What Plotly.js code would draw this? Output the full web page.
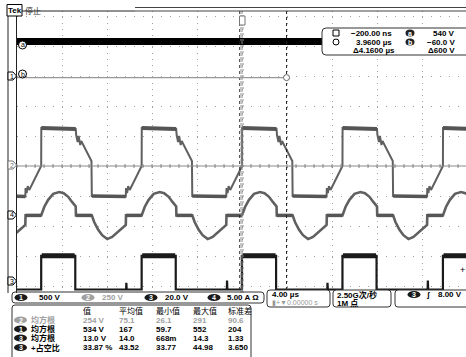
<!DOCTYPE html>
<html><head><meta charset="utf-8">
<script src="https://cdn.plot.ly/plotly-3.0.1.min.js"></script>
<style>body{margin:0;background:#fff}#c{width:466px;height:357px}</style>
</head><body><div id="c"></div><script>
// ---------------- data ----------------
const usPerDiv = 4;                       // 4.00 us/div
const ch1Scale = 500, ch2Scale = 250, ch3Scale = 20, ch4Scale = 5;
// ch3 gate pulse edges (us) and levels (V)
const ch3RiseUs = [-17.85, -8.92, 0, 8.93, 17.86];
const ch3FallUs = [-14.82, -5.89, 3.03, 11.96, 20.9];
const ch3HighV = 17.5, ch3LowV = -5;
const ch3SpikeUs = [-10.3, -1.35, 7.58, 16.5];
const ch3SpikeV = [1.5, 2, 1.5, 2];
// start times of each switching period (us)
const periodStartUs = [-26.78, -17.85, -8.92, 0, 8.93, 17.86];
// ch2 (250 V/div) shape within one period: offset (us) / volts
const ch2OffUs = [0, 0.01, 3.07, 3.11, 3.24, 3.33, 3.47, 3.56, 4.47, 4.5, 7.52, 7.54, 7.64, 7.73, 7.87, 8.93];
const ch2V     = [0, 317, 308, 258, 200, 250, 175, 208, 42, -250, -254, -183, -225, -167, -200, 0];
// ch4 (5 A/div) shape within one period: offset (us) / amps
const ch4OffUs = [0, 0.27, 0.62, 1.07, 1.6, 2.0, 2.4, 2.76, 3.07, 3.09, 4.5, 4.71, 5.07, 5.42, 5.87, 6.31, 6.76, 7.2, 7.52, 7.54, 8.93];
const ch4A     = [0.1, 1.5, 2.7, 3.7, 4.0, 3.8, 3.2, 2.3, 1.6, 0.1, 0.1, -1.0, -2.3, -3.2, -3.85, -3.5, -2.7, -2.0, -1.5, 0.1, 0.1];
// ch1 (500 V/div) flat bus voltage
const ch1Us = [-20, 20];
const ch1V  = [540, 540];
// cursors
const cursorAUs = -0.2, cursorBUs = 3.96;
const cursorAV = 540, cursorBV = -60;
const cursorTexts = ['\u2212200.00 ns', '3.9600 \u00b5s', '\u03944.1600 \u00b5s'];
const cursorVTexts = ['540 V', '\u221260.0 V', '\u0394600 V'];
// channel readouts
const chLabels = ['1', '2', '3', '4'];
const chScaleTexts = ['500 V', '250 V', '20.0 V', '5.00 A \u03a9'];
// measurement table
const statHeader = ['\u503c', '\u5e73\u5747\u503c', '\u6700\u5c0f\u503c', '\u6700\u5927\u503c', '\u6807\u51c6\u5dee'];
const statSrc  = ['2', '1', '3', '3'];
const statName = ['\u5747\u65b9\u6839', '\u5747\u65b9\u6839', '\u5747\u65b9\u6839', '+\u5360\u7a7a\u6bd4'];
const statValue = ['254 V', '534 V', '13.0 V', '33.87 %'];
const statMean  = ['75.1', '167', '14.0', '43.52'];
const statMin   = ['26.1', '59.7', '668m', '33.77'];
const statMax   = ['291', '552', '14.3', '44.98'];
const statStd   = ['90.6', '204', '1.33', '3.650'];

// ---------------- layout geometry ----------------
const W = 466, H = 357, ML = 17, MT = 11, MR = 0, MB = 64;
const PW = W - ML - MR, PH = H - MT - MB;
const CX = 242, CY = 166, PXDIV = 45, PYDIV = 30;
const px = x => (x - ML) / PW, py = y => (H - MB - y) / PH;
const offs = {1: (CY - 74) / PYDIV, 2: 0, 3: (CY - 282) / PYDIV, 4: (CY - 216) / PYDIV};
const toDiv = (v, s, o) => v / s + o;

function periodic(offT, vals, scale, off, idx) {
  const x = [], y = [];
  periodStartUs.forEach(s => {
    offT.forEach((d, i) => { if (!idx || idx.includes(i)) { x.push(s + d); y.push(toDiv(vals[i], scale, off)); } });
    if (idx) { x.push(null); y.push(null); }
  });
  return {x, y};
}
const ch2 = periodic(ch2OffUs, ch2V, ch2Scale, offs[2]);
const ch2Hi = periodic(ch2OffUs, ch2V, ch2Scale, offs[2], [1, 2]);
const ch2Lo = periodic(ch2OffUs, ch2V, ch2Scale, offs[2], [9, 10]);
const ch4 = periodic(ch4OffUs, ch4A, ch4Scale, offs[4]);
const ch4F1 = periodic(ch4OffUs, ch4A, ch4Scale, offs[4], [9, 10]);
const ch4F2 = periodic(ch4OffUs, ch4A, ch4Scale, offs[4], [19, 20]);
// ch3 square wave with spikes on the low level
const lo3 = toDiv(ch3LowV, ch3Scale, offs[3]), hi3 = toDiv(ch3HighV, ch3Scale, offs[3]);
const ch3x = [-20], ch3y = [lo3];
const hiX = [], hiY = [];
ch3RiseUs.forEach((r, i) => {
  const f = ch3FallUs[i];
  ch3SpikeUs.forEach((s, k) => { if (s < r && (i === 0 || s > ch3FallUs[i - 1])) { ch3x.push(s, s + 0.02, s + 0.05); ch3y.push(lo3, toDiv(ch3LowV + 3 * ch3SpikeV[k], ch3Scale, offs[3]), lo3); } });
  ch3x.push(r, r, f, f); ch3y.push(lo3, hi3, hi3, lo3);
  hiX.push(r + 0.05, f - 0.05, null); hiY.push(hi3, hi3, null);
});
ch3x.push(21); ch3y.push(lo3);

const traces = [
  {x: ch2.x, y: ch2.y, mode: 'lines', line: {color: '#606060', width: 2}, hoverinfo: 'skip'},
  {x: ch2Hi.x, y: ch2Hi.y, mode: 'lines', line: {color: '#555', width: 4}, hoverinfo: 'skip'},
  {x: ch2Lo.x, y: ch2Lo.y, mode: 'lines', line: {color: '#555', width: 3.5}, hoverinfo: 'skip'},
  {x: ch4.x, y: ch4.y, mode: 'lines', line: {color: '#606060', width: 2.6}, hoverinfo: 'skip'},
  {x: ch4F1.x, y: ch4F1.y, mode: 'lines', line: {color: '#555', width: 3.5}, hoverinfo: 'skip'},
  {x: ch4F2.x, y: ch4F2.y, mode: 'lines', line: {color: '#555', width: 3.5}, hoverinfo: 'skip'},
  {x: ch3x, y: ch3y, mode: 'lines', line: {color: '#1a1a1a', width: 2.2}, hoverinfo: 'skip'},
  {x: hiX, y: hiY, mode: 'lines', line: {color: '#1a1a1a', width: 5}, hoverinfo: 'skip'},
  {x: ch1Us, y: ch1V.map(v => toDiv(v, ch1Scale, offs[1])), mode: 'lines', line: {color: '#000', width: 7}, hoverinfo: 'skip'}
];

const shapes = [], ann = [];
const F = 'Liberation Sans, Noto Sans CJK SC, sans-serif';
const FC = 'Noto Sans CJK SC, sans-serif';
function line(x0, y0, x1, y1, c, w, d) { shapes.push({type: 'line', xref: 'paper', yref: 'paper', x0: px(x0), y0: py(y0), x1: px(x1), y1: py(y1), line: {color: c, width: w || 1, dash: d || 'solid'}}); }
function txt(x, y, t, o) { o = o || {}; ann.push({xref: 'paper', yref: 'paper', x: px(x), y: py(y), text: t, showarrow: false, borderpad: 0, xanchor: o.xa || 'left', yanchor: 'middle', font: {family: o.f || F, size: o.s || 8, color: o.c || '#000'}}); }
function pill(cx, cy, t, fill, w) { w = w || 6.5; shapes.push({type: 'circle', xref: 'paper', yref: 'paper', x0: px(cx - w), x1: px(cx + w), y0: py(cy - 3.6), y1: py(cy + 3.6), fillcolor: fill, line: {width: 0}}); txt(cx, cy, '<b>' + t + '</b>', {xa: 'center', s: 7, c: '#fff'}); }
function rbox(x0, y0, x1, y1, r, c, fill) {
  const P = (x, y) => px(x) + ',' + py(y);
  shapes.push({type: 'path', xref: 'paper', yref: 'paper', line: {color: c || '#333', width: 1}, fillcolor: fill || 'rgba(0,0,0,0)',
    path: 'M' + P(x0 + r, y0) + ' L' + P(x1 - r, y0) + ' Q' + P(x1, y0) + ' ' + P(x1, y0 + r) + ' L' + P(x1, y1 - r) + ' Q' + P(x1, y1) + ' ' + P(x1 - r, y1) + ' L' + P(x0 + r, y1) + ' Q' + P(x0, y1) + ' ' + P(x0, y1 - r) + ' L' + P(x0, y0 + r) + ' Q' + P(x0, y0) + ' ' + P(x0 + r, y0) + ' Z'});
}

// centre lines with minor ticks
const GB = H - MB;
line(ML, CY, W, CY, '#8a8a8a', 1);
line(CX, MT, CX, GB, '#8a8a8a', 1, 'dot');
for (let x = ML; x <= W; x += 9) line(x, CY - 2, x, CY + 2, '#8a8a8a', 1);
for (let y = CY; y >= MT; y -= 6) line(CX - 2, y, CX + 2, y, '#8a8a8a', 1);
for (let y = CY; y <= GB; y += 6) line(CX - 2, y, CX + 2, y, '#8a8a8a', 1);

// cursors
const xOf = t => CX + t / usPerDiv * PXDIV;
const yOf = d => CY - d * PYDIV;
line(xOf(cursorAUs), MT, xOf(cursorAUs), GB, '#222', 1, 'dot');
line(xOf(cursorBUs), MT, xOf(cursorBUs), GB, '#222', 1, 'dot');
const yb = yOf(toDiv(cursorBV, ch1Scale, offs[1]));
line(ML, yb, xOf(cursorBUs) - 3, yb, '#999', 1.2);
shapes.push({type: 'circle', xref: 'paper', yref: 'paper', x0: px(xOf(cursorBUs) - 3), x1: px(xOf(cursorBUs) + 3), y0: py(yb - 3), y1: py(yb + 3), line: {color: '#666', width: 1}, fillcolor: '#fff'});

// outer frame bits
line(8, 7, 8, GB, '#222', 1);
line(ML, MT, 135, MT, '#222', 1);
line(135, 7.5, W, 7.5, '#444', 1);
line(135, 11, W, 11, '#444', 1);
// trigger position marker
shapes.push({type: 'rect', xref: 'paper', yref: 'paper', x0: px(239.5), x1: px(245), y0: py(16), y1: py(25), line: {color: '#777', width: 1}, fillcolor: '#fff'});
// trigger level marker
txt(466, yOf(toDiv(8, ch3Scale, offs[3])), '+', {xa: 'right', s: 9});

// channel ground markers
[[1, '#000'], [2, '#777'], [4, '#000'], [3, '#000']].forEach(([n, c]) => {
  const y = yOf(offs[n]) + (n === 1 ? 2 : -1);
  const P = (x, yy) => px(x) + ',' + py(yy);
  shapes.push({type: 'path', xref: 'paper', yref: 'paper', fillcolor: '#fff', line: {color: c, width: 1}, path: 'M' + P(8, y - 4) + ' L' + P(13, y - 4) + ' L' + P(16.5, y) + ' L' + P(13, y + 4) + ' L' + P(8, y + 4) + ' Z'});
  txt(11.5, y, String(n), {xa: 'center', s: 7, c: c});
});
// cursor letters
[['a', 45], ['b', 74]].forEach(([t, y]) => {
  shapes.push({type: 'circle', xref: 'paper', yref: 'paper', x0: px(18.5), x1: px(26.5), y0: py(y - 4), y1: py(y + 4), line: {color: '#000', width: 1}, fillcolor: '#fff'});
  txt(22.5, y, t, {xa: 'center', s: 7});
});

// Tek label
shapes.push({type: 'rect', xref: 'paper', yref: 'paper', x0: px(7), x1: px(22), y0: py(4.5), y1: py(16), fillcolor: '#fff', line: {color: '#000', width: 1}});
txt(14.5, 10.5, '<b>Tek</b>', {s: 8, xa: 'center'});
txt(24, 10.5, '\u505c\u6b62', {s: 8, f: FC, c: '#333'});

// cursor readout box (white fill hides the trace behind it)
rbox(322, 28, 472, 55, 4, '#333', '#fff');
shapes.push({type: 'rect', xref: 'paper', yref: 'paper', x0: px(333), x1: px(339), y0: py(30), y1: py(36), line: {color: '#000', width: 1}});
shapes.push({type: 'circle', xref: 'paper', yref: 'paper', x0: px(333), x1: px(339), y0: py(39), y1: py(45), line: {color: '#000', width: 1}});
txt(393, 33, '<b>' + cursorTexts[0] + '</b>', {xa: 'right'});
txt(393, 42, '<b>' + cursorTexts[1] + '</b>', {xa: 'right'});
txt(396, 51, '<b>' + cursorTexts[2] + '</b>', {xa: 'right'});
pill(410, 33, 'a', '#222', 4.5); pill(410, 42, 'b', '#222', 4.5);
txt(456, 33, '<b>' + cursorVTexts[0] + '</b>', {xa: 'right'});
txt(456, 42, '<b>' + cursorVTexts[1] + '</b>', {xa: 'right'});
txt(456, 51, '<b>' + cursorVTexts[2] + '</b>', {xa: 'right'});

// channel readout bar
const BY = 297.5;
rbox(12, 292, 264, 303, 3, '#333');
const pillX = [21, 88, 151, 214], scX = [38, 101, 164, 226];
chLabels.forEach((l, i) => {
  pill(pillX[i], BY, l, i === 1 ? '#a0a0a0' : '#1a1a1a');
  txt(scX[i], BY, '<b>' + chScaleTexts[i] + '</b>', {c: i === 1 ? '#a0a0a0' : '#000'});
});

// timebase / sample / trigger boxes
rbox(267, 290, 330, 307, 3, '#333', '#fff');
txt(271, 294.5, '<b>4.00 \u00b5s</b>');
txt(271, 302.5, '\u25ae+\u25bc0.00000 s', {c: '#999', s: 7});
rbox(333, 290, 391, 307, 3, '#333', '#fff');
txt(336, 294.5, '<b>2.50G\u6b21/\u79d2</b>', {f: F});
txt(336, 302.5, '<b>1M \u70b9</b>', {f: F});
rbox(395, 290, 472, 307, 3, '#333', '#fff');
pill(414, 294.5, '3', '#1a1a1a');
txt(428, 294.5, '<b>\u0283</b>', {xa: 'center'});
txt(463, 294.5, '<b>8.00 V</b>', {xa: 'right'});

// measurement table
rbox(12, 305, 251, 362, 3, '#333');
const colX = [82, 118, 155, 192, 227];
statHeader.forEach((h, i) => txt(colX[i], 310.5, h, {f: F}));
const rowY = [320, 329, 338, 347.5];
statSrc.forEach((s, r) => {
  const c = r === 0 ? '#a0a0a0' : '#000';
  pill(20.5, rowY[r], s, r === 0 ? '#a0a0a0' : '#1a1a1a');
  txt(30, rowY[r], '<b>' + statName[r] + '</b>', {c, f: F});
  [statValue, statMean, statMin, statMax, statStd].forEach((arr, k) => txt(colX[k], rowY[r], '<b>' + arr[r] + '</b>', {c}));
});

const layout = {
  width: W, height: H, margin: {l: ML, r: MR, t: MT, b: MB},
  paper_bgcolor: '#fff', plot_bgcolor: '#fff', showlegend: false,
  xaxis: {range: [-20, -20 + PW / PXDIV * usPerDiv], dtick: usPerDiv, tick0: 0, showgrid: true, gridcolor: '#a0a0a0', griddash: '1px,5px', gridwidth: 1,
          zeroline: false, showticklabels: false, ticks: '', showline: false},
  yaxis: {range: [-(GB - CY) / PYDIV, (CY - MT) / PYDIV], dtick: 1, tick0: 0, showgrid: true, gridcolor: '#a0a0a0', griddash: '1px,8px', gridwidth: 1,
          zeroline: false, showticklabels: false, ticks: '', showline: true, linecolor: '#222', linewidth: 1, mirror: false},
  shapes, annotations: ann
};
Plotly.newPlot('c', traces, layout, {staticPlot: true, displayModeBar: false});
</script></body></html>
